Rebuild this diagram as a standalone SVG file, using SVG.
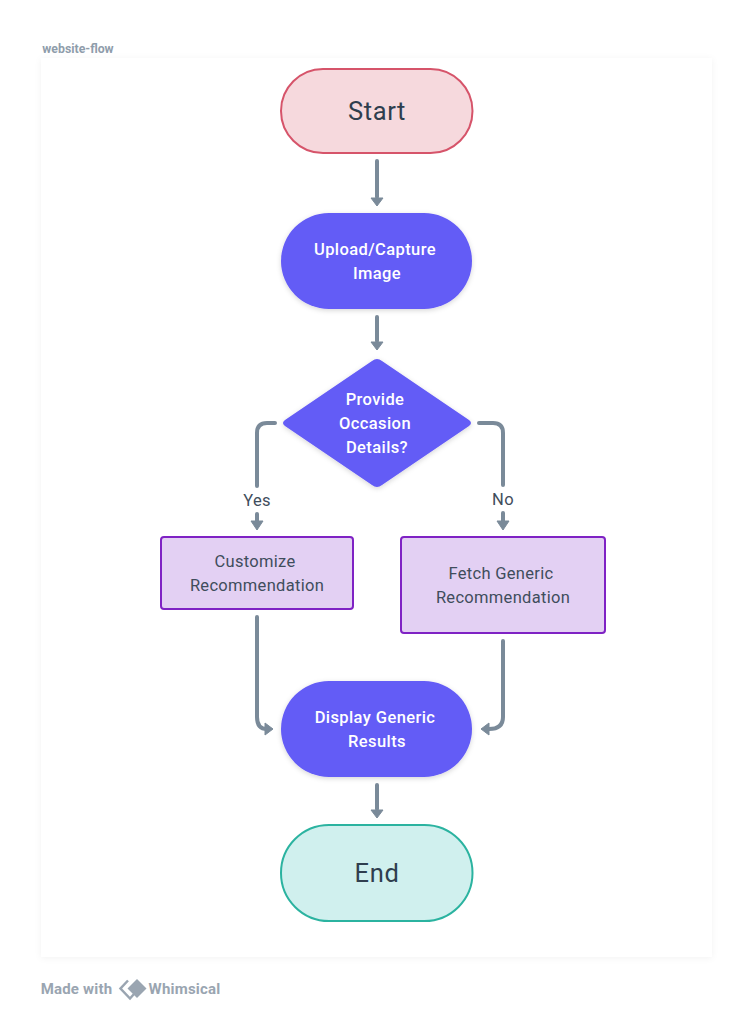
<svg xmlns="http://www.w3.org/2000/svg" width="754" height="1019" viewBox="0 0 754 1019">
<style>
text{font-family:"Roboto","Liberation Sans",sans-serif;text-anchor:middle}
.w{fill:#fff;font-size:16.5px;font-weight:500;letter-spacing:.4px}
.d{fill:#3f4d5c;font-size:16.5px;letter-spacing:.3px}
.big{fill:#2f3e4e;font-size:25.500px;letter-spacing:.6px}
.c{fill:none;stroke:#7a8a99;stroke-width:4;stroke-linecap:round;stroke-linejoin:round}
.h{fill:#7a8a99;stroke:#7a8a99;stroke-width:1;stroke-linejoin:round}
.v{fill:#645bf6}
.p{fill:#e3d0f3;stroke:#7f22c4;stroke-width:2}
.f{font-size:15px;font-weight:700;fill:#9aa5b1;letter-spacing:.2px}
</style>
<defs>
<filter id="sh" x="-10%" y="-10%" width="120%" height="125%"><feDropShadow dx="0" dy="1.500" stdDeviation="2.500" flood-color="#000" flood-opacity=".16"/></filter>
<filter id="card" x="-3%" y="-3%" width="106%" height="106%"><feDropShadow dx="0" dy="1" stdDeviation="3" flood-color="#000" flood-opacity=".05"/></filter>
</defs>
<rect width="754" height="1019" fill="#fff"/>
<rect x="41" y="58" width="671" height="899" fill="#fff" filter="url(#card)"/>
<text x="78" y="53" style="font-size:12.300px;font-weight:700;fill:#8f9dab">website-flow</text>
<g id="connectors">
<path class="c" d="M377 161V197"/><path class="h" d="M371 198H383L377 206Z"/>
<path class="c" d="M377 317V341"/><path class="h" d="M371 342H383L377 350Z"/>
<path class="c" d="M275 423H267Q257 423 257 433V486"/>
<path class="c" d="M257 514V521"/><path class="h" d="M251 521H263L257 530Z"/>
<path class="c" d="M479 423H493Q503 423 503 433V485"/>
<path class="c" d="M503 513V521"/><path class="h" d="M497 521H509L503 530Z"/>
<path class="c" d="M257 617V717Q257 729 267 729"/><path class="h" d="M265 723L273 729L265 735Z"/>
<path class="c" d="M503 641V717Q503 729 489 729"/><path class="h" d="M489 723L481 729L489 735Z"/>
<path class="c" d="M377 785V809"/><path class="h" d="M371 810H383L377 818Z"/>
</g>
<g id="start"><rect x="281" y="69" width="191.500" height="84" rx="42" fill="#f6d9dd" stroke="#d6546a" stroke-width="2"/><text class="big" x="377" y="120">Start</text></g>
<g id="upload"><rect x="281" y="213" width="191" height="96" rx="48" class="v" filter="url(#sh)"/><text class="w" x="375" y="255">Upload/Capture</text><text class="w" x="377" y="279">Image</text></g>
<g id="decision"><path class="v" filter="url(#sh)" d="M372 361Q377 357 382 361L469 420Q473 423 469 426L382 485Q377 489 372 485L285 426Q281 423 285 420Z"/><text class="w" x="375" y="405">Provide</text><text class="w" x="375" y="429">Occasion</text><text class="w" x="377" y="453">Details?</text></g>
<text class="d" x="257" y="506">Yes</text>
<text class="d" x="503" y="505">No</text>
<g id="customize"><rect x="161" y="537" width="192" height="72" rx="3" class="p"/><text class="d" x="255" y="567">Customize</text><text class="d" x="257" y="591">Recommendation</text></g>
<g id="fetch"><rect x="401" y="537" width="204" height="96" rx="3" class="p"/><text class="d" x="501" y="579">Fetch Generic</text><text class="d" x="503" y="603">Recommendation</text></g>
<g id="display"><rect x="281" y="681" width="191" height="96" rx="48" class="v" filter="url(#sh)"/><text class="w" x="375" y="723">Display Generic</text><text class="w" x="377" y="747">Results</text></g>
<g id="end"><rect x="281" y="825" width="191.500" height="96" rx="48" fill="#d0f0ee" stroke="#2bb3a0" stroke-width="2"/><text class="big" x="377" y="882">End</text></g>
<g id="footer">
<text class="f" x="76.500" y="994">Made with</text>
<path d="M128 980.500L120.500 988.500L130 998.500L134 994" fill="none" stroke="#9aa5b1" stroke-width="2.500"/>
<path fill="#9aa5b1" d="M137 979L146.500 988.500L137 998L127.500 988.500Z"/>
<text class="f" x="184.500" y="994">Whimsical</text>
</g>
</svg>
